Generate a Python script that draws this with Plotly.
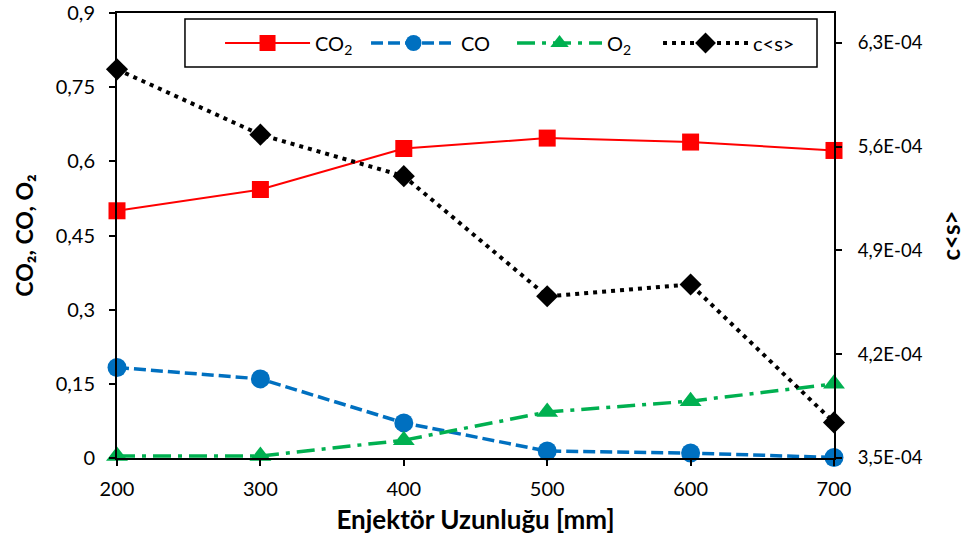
import plotly.graph_objects as go

# Injector length [mm]
x_len = [200, 300, 400, 500, 600, 700]

# Mole fractions (left axis)
co2 = [0.500, 0.543, 0.626, 0.647, 0.639, 0.622]
co = [0.183, 0.160, 0.071, 0.014, 0.010, 0.001]
o2 = [0.004, 0.004, 0.036, 0.093, 0.115, 0.150]

# c<s> (right axis)
cs = [6.12e-4, 5.68e-4, 5.40e-4, 4.59e-4, 4.67e-4, 3.74e-4]

left_ticks = [0, 0.15, 0.3, 0.45, 0.6, 0.75, 0.9]
right_ticks = [3.5e-4, 4.2e-4, 4.9e-4, 5.6e-4, 6.3e-4]
right_labels = ["3,5E-04", "4,2E-04", "4,9E-04", "5,6E-04", "6,3E-04"]

FONT = "Lato"

fig = go.Figure()
fig.add_trace(go.Scatter(
    x=x_len, y=co2, name="CO<sub>2</sub>", mode="lines+markers",
    line=dict(color="#FF0000", width=2),
    marker=dict(symbol="square", size=17, color="#FF0000"),
    cliponaxis=False))
fig.add_trace(go.Scatter(
    x=x_len, y=co, name="CO", mode="lines+markers",
    line=dict(color="#0070C0", width=3.5, dash="12px,5px"),
    marker=dict(symbol="circle", size=19, color="#0070C0"),
    cliponaxis=False))
fig.add_trace(go.Scatter(
    x=x_len, y=o2, name="O<sub>2</sub>", mode="lines+markers",
    line=dict(color="#00B050", width=3.5, dash="18px,7px,4px,7px"),
    marker=dict(symbol="triangle-up", size=19, color="#00B050"),
    cliponaxis=False))
fig.add_trace(go.Scatter(
    x=x_len, y=cs, name="c&lt;s&gt;", mode="lines+markers", yaxis="y2",
    line=dict(color="#000000", width=4, dash="4px,5px"),
    marker=dict(symbol="diamond", size=17, color="#000000"),
    cliponaxis=False))

axis_common = dict(
    showline=True, linecolor="black", linewidth=2,
    ticks="outside", ticklen=6, tickwidth=2, tickcolor="black",
    showgrid=False, zeroline=False, automargin=False,
)

fig.update_layout(
    width=969, height=546,
    margin=dict(l=117, r=135, t=13, b=88, autoexpand=False),
    paper_bgcolor="white", plot_bgcolor="white",
    separators=",.",
    font=dict(family=FONT, color="#000000"),
    xaxis=dict(
        range=[200, 700], tickvals=x_len, mirror=True,
        tickfont=dict(family=FONT, size=20, color="#000000"),
        ticklabelstandoff=6,
        title=dict(text="<b>Enjektör Uzunluğu [mm]</b>",
                   font=dict(family=FONT, size=26), standoff=12),
        **axis_common),
    yaxis=dict(
        range=[0, 0.9], tickvals=left_ticks,
        tickfont=dict(family=FONT, size=20, color="#000000"),
        ticklabelstandoff=10,
        title=dict(text="<b>CO₂, CO, O₂</b>",
                   font=dict(family=FONT, size=23), standoff=16),
        **axis_common),
    yaxis2=dict(
        range=[3.5e-4, 6.5e-4], overlaying="y", side="right",
        tickvals=right_ticks, ticktext=right_labels,
        tickfont=dict(family=FONT, size=18.5, color="#000000"),
        ticklabelstandoff=12,
        title=dict(text="<b>c&lt;s&gt;</b>",
                   font=dict(family=FONT, size=24), standoff=22),
        **axis_common),
    legend=dict(
        orientation="h", x=0.1437, y=0.9326, xanchor="left", yanchor="middle",
        bgcolor="rgba(0,0,0,0)", borderwidth=0,
        font=dict(family=FONT, size=20),
        entrywidth=46, entrywidthmode="pixels",
        itemwidth=85,
    ),
    # frame around the legend entries
    shapes=[dict(
        type="rect", xref="paper", yref="paper",
        x0=0.0948, x1=0.9763, y0=0.8787, y1=0.9865,
        line=dict(color="black", width=1.5), fillcolor="white", layer="above",
    )],
)

fig.write_html("out.html")
